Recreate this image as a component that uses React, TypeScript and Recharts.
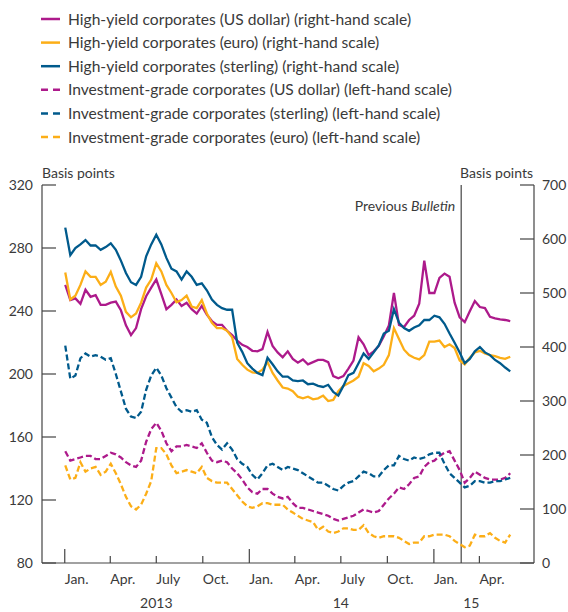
import React from "react";
import { LineChart, Line, XAxis, YAxis, ReferenceLine, Legend, Label } from "recharts";

// sample dates (roughly every ten days)
const dates = [
  "2013-01-02", "2013-01-12", "2013-01-22", "2013-02-01", "2013-02-11", "2013-02-21", "2013-03-03", "2013-03-13",
  "2013-03-23", "2013-04-02", "2013-04-12", "2013-04-22", "2013-05-02", "2013-05-12", "2013-05-22", "2013-06-01",
  "2013-06-11", "2013-06-21", "2013-07-01", "2013-07-11", "2013-07-21", "2013-07-31", "2013-08-10", "2013-08-20",
  "2013-08-30", "2013-09-09", "2013-09-19", "2013-09-29", "2013-10-09", "2013-10-19", "2013-10-29", "2013-11-08",
  "2013-11-18", "2013-11-28", "2013-12-08", "2013-12-18", "2013-12-28", "2014-01-07", "2014-01-17", "2014-01-27",
  "2014-02-06", "2014-02-16", "2014-02-26", "2014-03-08", "2014-03-18", "2014-03-28", "2014-04-07", "2014-04-17",
  "2014-04-27", "2014-05-07", "2014-05-17", "2014-05-27", "2014-06-06", "2014-06-16", "2014-06-26", "2014-07-06",
  "2014-07-16", "2014-07-26", "2014-08-05", "2014-08-15", "2014-08-25", "2014-09-04", "2014-09-14", "2014-09-24",
  "2014-10-04", "2014-10-14", "2014-10-24", "2014-11-03", "2014-11-13", "2014-11-23", "2014-12-03", "2014-12-13",
  "2014-12-23", "2015-01-02", "2015-01-12", "2015-01-22", "2015-02-01", "2015-02-11", "2015-02-21", "2015-03-03",
  "2015-03-13", "2015-03-23", "2015-04-02", "2015-04-12", "2015-04-22", "2015-05-02", "2015-05-12", "2015-05-22",
  "2015-06-01",
];

// high-yield, right-hand scale
const hyUsd = [
  515, 487, 490, 480, 506, 493, 496, 478, 478, 482, 484, 468, 440, 422, 435, 470, 494, 510, 525, 498, 470, 478,
  488, 476, 482, 470, 462, 476, 460, 448, 441, 441, 430, 422, 412, 404, 400, 393, 392, 396, 428, 402, 390, 381,
  392, 378, 371, 377, 368, 372, 376, 376, 372, 346, 342, 346, 360, 375, 418, 405, 385, 392, 402, 420, 440, 500,
  441, 437, 450, 458, 480, 560, 500, 500, 528, 536, 530, 482, 455, 446, 466, 485, 474, 472, 456, 453, 451, 450, 448,
];
const hyEur = [
  538, 488, 495, 515, 540, 530, 530, 515, 521, 539, 512, 495, 465, 455, 462, 482, 510, 525, 555, 540, 515, 500,
  483, 487, 495, 475, 472, 487, 462, 445, 435, 435, 430, 418, 378, 367, 358, 353, 352, 358, 372, 352, 338, 325,
  323, 318, 308, 305, 308, 303, 305, 310, 300, 302, 318, 328, 333, 338, 345, 370, 365, 355, 360, 367, 385, 435,
  415, 395, 385, 380, 377, 385, 410, 410, 412, 400, 405, 398, 375, 368, 380, 390, 393, 388, 385, 383, 380, 378, 382,
];
const hyGbp = [
  621, 570, 583, 590, 598, 588, 588, 580, 585, 592, 580, 560, 537, 520, 515, 530, 568, 590, 608, 590, 565, 545,
  540, 525, 540, 530, 515, 518, 505, 488, 478, 472, 469, 469, 408, 391, 370, 360, 352, 348, 380, 368, 355, 345,
  345, 338, 337, 338, 331, 332, 328, 326, 330, 317, 310, 328, 348, 352, 370, 388, 378, 390, 403, 425, 430, 470,
  445, 435, 430, 436, 440, 450, 450, 458, 455, 443, 425, 408, 390, 370, 378, 392, 400, 390, 385, 376, 370, 362, 355,
];

// investment-grade, left-hand scale
const igUsd = [
  151, 145, 146, 147, 148, 148, 146, 146, 148, 150, 149, 147, 144, 142, 141, 145, 157, 165, 169, 164, 156, 151,
  154, 154, 155, 154, 153, 156, 150, 145, 144, 145, 144, 140, 137, 133, 128, 125, 124, 127, 127, 124, 122, 121,
  122, 118, 115, 115, 114, 113, 112, 111, 110, 108, 107, 108, 109, 110, 112, 114, 113, 112, 113, 117, 121, 124,
  128, 127, 130, 134, 135, 141, 144, 145, 148, 150, 151, 145, 139, 131, 134, 138, 136, 134, 133, 133, 133, 134, 137,
];
const igGbp = [
  218, 197, 199, 210, 213, 211, 212, 211, 209, 210, 200, 189, 178, 173, 172, 176, 190, 199, 204, 199, 191, 185,
  179, 176, 177, 176, 177, 171, 169, 160, 155, 152, 156, 152, 146, 143, 141, 136, 133, 137, 142, 143, 141, 139,
  141, 140, 139, 137, 135, 133, 131, 131, 129, 127, 126, 129, 131, 132, 135, 138, 137, 135, 135, 139, 142, 142,
  148, 146, 145, 147, 146, 147, 149, 150, 150, 143, 137, 134, 131, 128, 129, 132, 132, 131, 131, 132, 132, 133, 134,
];
const igEur = [
  142, 133, 134, 144, 138, 140, 141, 136, 138, 143, 137, 130, 122, 116, 114, 117, 124, 132, 153, 153, 149, 142,
  137, 138, 139, 138, 137, 141, 134, 132, 131, 131, 131, 127, 123, 119, 116, 115, 116, 118, 118, 117, 117, 117,
  114, 112, 110, 108, 107, 106, 101, 103, 100, 99, 100, 102, 102, 101, 101, 104, 99, 97, 96, 97, 97, 97,
  96, 94, 92, 93, 93, 97, 97, 98, 98, 98, 97, 94, 92, 90, 91, 98, 97, 97, 99, 96, 94, 93, 98,
];

const monthTicks = [
  "2013-01-01", "2013-04-01", "2013-07-01", "2013-10-01", "2014-01-01", "2014-04-01", "2014-07-01", "2014-10-01",
  "2015-01-01", "2015-04-01",
];
const monthLabels = ["Jan.", "Apr.", "July", "Oct.", "Jan.", "Apr.", "July", "Oct.", "Jan.", "Apr."];
const yearTicks = ["2013-07-01", "2014-07-01", "2015-03-16"];
const yearLabels = ["2013", "14", "15"];
const leftTicks = [80, 120, 160, 200, 240, 280, 320];
const rightTicks = [0, 100, 200, 300, 400, 500, 600, 700];
const previousBulletin = "2015-02-24";

const MAGENTA = "#ad1a8b";
const ORANGE = "#fcae17";
const BLUE = "#005a8c";
const AXIS = "#444";
const TEXT = "#3a3a3a";
const FONT = "Lato, sans-serif";

const series = [
  { key: "hyUsd", name: "High-yield corporates (US dollar) (right-hand scale)", color: MAGENTA, dash: false, axis: "right" },
  { key: "hyEur", name: "High-yield corporates (euro) (right-hand scale)", color: ORANGE, dash: false, axis: "right" },
  { key: "hyGbp", name: "High-yield corporates (sterling) (right-hand scale)", color: BLUE, dash: false, axis: "right" },
  { key: "igUsd", name: "Investment-grade corporates (US dollar) (left-hand scale)", color: MAGENTA, dash: true, axis: "left" },
  { key: "igGbp", name: "Investment-grade corporates (sterling) (left-hand scale)", color: BLUE, dash: true, axis: "left" },
  { key: "igEur", name: "Investment-grade corporates (euro) (left-hand scale)", color: ORANGE, dash: true, axis: "left" },
];

const ts = (d: string) => Date.parse(d);
const data = dates.map((d, i) => ({
  t: ts(d),
  hyUsd: hyUsd[i],
  hyEur: hyEur[i],
  hyGbp: hyGbp[i],
  igUsd: igUsd[i],
  igGbp: igGbp[i],
  igEur: igEur[i],
}));

const xMin = ts("2012-11-17");
const xMax = ts("2015-07-18");

const LeftTick = (p: any) => (
  <g>
    <line x1={p.x + 9} x2={p.x + 23} y1={p.y} y2={p.y} stroke={AXIS} strokeWidth={1.2} />
    <text x={p.x} y={p.y} dy={5} textAnchor="end" fill={TEXT} fontSize={14} fontFamily={FONT}>
      {p.payload.value}
    </text>
  </g>
);

const RightTick = (p: any) => (
  <g>
    <line x1={p.x - 8} x2={p.x - 22} y1={p.y} y2={p.y} stroke={AXIS} strokeWidth={1.2} />
    <text x={p.x} y={p.y} dy={5} textAnchor="start" fill={TEXT} fontSize={14} fontFamily={FONT}>
      {p.payload.value}
    </text>
  </g>
);

const MonthTick = (p: any) => {
  const i = monthTicks.findIndex((m) => ts(m) === p.payload.value);
  const label = monthLabels[i] ?? "";
  const len = label === "Jan." ? 14 : 7;
  return (
    <g>
      <line x1={p.x} x2={p.x} y1={p.y} y2={p.y - len} stroke={AXIS} strokeWidth={1.2} />
      <text x={p.x} y={p.y + 21} textAnchor="start" fill={TEXT} fontSize={14} fontFamily={FONT}>
        {label}
      </text>
    </g>
  );
};

const YearTick = (p: any) => {
  const i = yearTicks.findIndex((m) => ts(m) === p.payload.value);
  return (
    <text x={p.x} y={p.y + 21} textAnchor="middle" fill={TEXT} fontSize={14} fontFamily={FONT}>
      {yearLabels[i] ?? ""}
    </text>
  );
};

const LegendBox = () => (
  <svg width={568} height={150} style={{ display: "block" }}>
    {series.map((s, i) => {
      const y = 19 + i * 23.6;
      return (
        <g key={s.key}>
          <line
            x1={41}
            x2={60}
            y1={y}
            y2={y}
            stroke={s.color}
            strokeWidth={2.5}
            strokeDasharray={s.dash ? "7 5" : undefined}
          />
          <text x={68} y={y} dy={5.5} fill={TEXT} fontSize={15.6} fontFamily={FONT}>
            {s.name}
          </text>
        </g>
      );
    })}
  </svg>
);

export default function App() {
  return (
    <div style={{ position: "absolute", left: 0, top: 0, width: 568, height: 612, background: "#fff" }}>
      <LineChart width={568} height={612} data={data} margin={{ top: 185, right: 0, bottom: 0, left: 0 }}>
        <Legend
          layout="vertical"
          align="center"
          verticalAlign="middle"
          wrapperStyle={{ top: 0, left: 0, width: 568, height: 150 }}
          content={() => <LegendBox />}
        />
        <XAxis
          xAxisId="m"
          dataKey="t"
          type="number"
          domain={[xMin, xMax]}
          allowDataOverflow
          ticks={monthTicks.map(ts)}
          interval={0}
          height={24}
          tickSize={0}
          tickMargin={0}
          tickLine={false}
          axisLine={{ stroke: AXIS, strokeWidth: 1.2 }}
          tick={<MonthTick />}
        />
        <XAxis
          xAxisId="yr"
          dataKey="t"
          type="number"
          domain={[xMin, xMax]}
          allowDataOverflow
          ticks={yearTicks.map(ts)}
          interval={0}
          height={25}
          tickSize={0}
          tickMargin={0}
          tickLine={false}
          axisLine={false}
          tick={<YearTick />}
        />
        <XAxis
          xAxisId="top"
          orientation="top"
          dataKey="t"
          type="number"
          domain={[xMin, xMax]}
          allowDataOverflow
          height={0}
          tick={false}
          tickLine={false}
          axisLine={{ stroke: AXIS, strokeWidth: 1.2 }}
        />
        <YAxis
          yAxisId="left"
          orientation="left"
          domain={[80, 320]}
          ticks={leftTicks}
          interval={0}
          width={42}
          tickSize={0}
          tickMargin={9}
          tickLine={false}
          axisLine={{ stroke: AXIS, strokeWidth: 1.2 }}
          tick={<LeftTick />}
        >
          <Label
            content={(p: any) => (
              <text x={p.viewBox.x + 42} y={p.viewBox.y - 7} fill={TEXT} fontSize={14} fontFamily={FONT}>
                Basis points
              </text>
            )}
          />
        </YAxis>
        <YAxis
          yAxisId="right"
          orientation="right"
          domain={[0, 700]}
          ticks={rightTicks}
          interval={0}
          width={34}
          tickSize={0}
          tickMargin={8}
          tickLine={false}
          axisLine={{ stroke: AXIS, strokeWidth: 1.2 }}
          tick={<RightTick />}
        >
          <Label
            content={(p: any) => (
              <text x={p.viewBox.x - 1} y={p.viewBox.y - 7} textAnchor="end" fill={TEXT} fontSize={14} fontFamily={FONT}>
                Basis points
              </text>
            )}
          />
        </YAxis>
        <ReferenceLine
          xAxisId="m"
          yAxisId="left"
          x={ts(previousBulletin)}
          stroke={AXIS}
          strokeWidth={1.2}
          label={(p: any) => (
            <text x={p.viewBox.x - 6} y={p.viewBox.y + 26} textAnchor="end" fill={TEXT} fontSize={14} fontFamily={FONT}>
              Previous <tspan fontStyle="italic">Bulletin</tspan>
            </text>
          )}
        />
        {series.map((s) => (
          <Line
            key={s.key}
            xAxisId="m"
            yAxisId={s.axis}
            dataKey={s.key}
            name={s.name}
            type="linear"
            stroke={s.color}
            strokeWidth={2.3}
            strokeDasharray={s.dash ? "6 3" : undefined}
            dot={false}
            activeDot={false}
            isAnimationActive={false}
          />
        ))}
      </LineChart>
    </div>
  );
}
